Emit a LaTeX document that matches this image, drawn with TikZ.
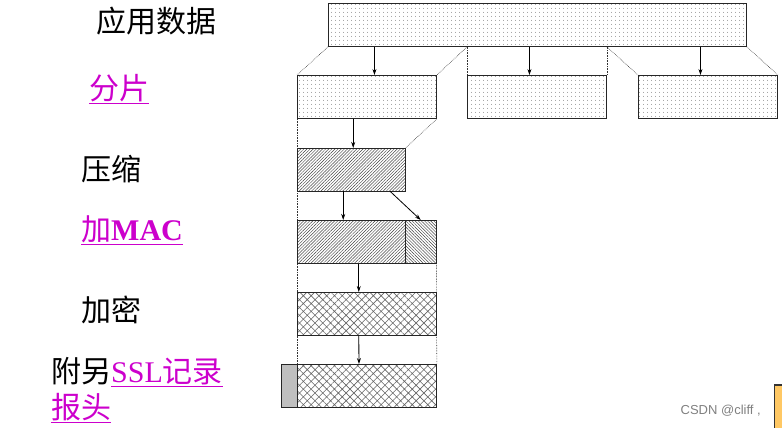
\documentclass[tikz,border=0pt]{standalone}
\usepackage{fontspec}
\setmainfont{Liberation Serif}
\setsansfont{Liberation Sans}
\newfontfamily\cjk{Noto Sans CJK SC}
\usepackage{tikz}
\usetikzlibrary{arrows.meta,patterns.meta,calc}
\definecolor{linkpurple}{RGB}{204,0,204}
\definecolor{memoorange}{RGB}{255,200,100}
\newcommand{\lnk}[1]{\textcolor{linkpurple}{\underline{#1}}}

\begin{document}
\begin{tikzpicture}[x=1pt, y=-1pt, >={Stealth[length=6pt,width=4pt]},
  box/.style={draw=black!85, line width=0.9pt, rectangle, inner sep=0pt, anchor=north west, minimum height=43pt},
  dotbox/.style={box, pattern={Dots[distance=4pt,radius=0.45pt]}, pattern color=black!70},
  linebox/.style={box, pattern={Lines[angle=45,distance=2.2pt,line width=0.45pt]}, pattern color=black!75},
  backbox/.style={box, pattern={Lines[angle=-45,distance=2.2pt,line width=0.45pt]}, pattern color=black!75},
  crossbox/.style={box, pattern={Hatch[angle=45,distance=5.5pt,line width=0.6pt]}, pattern color=black!60},
  guide/.style={densely dotted, black!80, line width=0.6pt},
  flow/.style={->, line width=0.8pt},
  lbl/.style={inner sep=0pt, anchor=west, font=\fontsize{30}{36}\selectfont}]
  \useasboundingbox (0,0) rectangle (782,428);
  % blocks
  \node[dotbox, minimum width=418pt] (app) at (328,3) {};
  \node[dotbox, minimum width=139pt] (frag1) at (297,75) {};
  \node[dotbox, minimum width=139pt] (frag2) at (467,75) {};
  \node[dotbox, minimum width=139pt] (frag3) at (638,75) {};
  \node[linebox, minimum width=108pt] (comp) at (297,148) {};
  \node[linebox, minimum width=108pt] (macdata) at (297,220) {};
  \node[backbox, minimum width=31pt] (mactag) at (405,220) {};
  \node[crossbox, minimum width=139pt] (enc) at (297,292) {};
  \node[box, fill=black!25, minimum width=16pt] (rechdr) at (281,364) {};
  \node[crossbox, minimum width=139pt] (recbody) at (297,364) {};
  % fragment guides
  \coordinate (cut1) at (frag2.north west |- app.south);
  \coordinate (cut2) at (frag2.north east |- app.south);
  \draw[guide] (app.south west) -- (frag1.north west);
  \draw[guide] (cut1) -- (frag1.north east);
  \draw[guide] (cut1) -- (frag2.north west);
  \draw[guide] (cut2) -- (frag2.north east);
  \draw[guide] (cut2) -- (frag3.north west);
  \draw[guide] (app.south east) -- (frag3.north east);
  % stack guides
  \draw[guide] (frag1.south west) -- (comp.north west);
  \draw[guide] (frag1.south east) -- (comp.north east);
  \draw[guide] (comp.south west) -- (macdata.north west);
  \draw[guide] (macdata.south west) -- (enc.north west);
  \draw[guide] (mactag.south east) -- (enc.north east);
  \draw[guide] (enc.south west) -- (recbody.north west);
  \draw[guide] (enc.south east) -- (recbody.north east);
  % arrows
  \foreach \f/\dx in {frag1/7.5,frag2/-7.5,frag3/-7.5}
    \draw[flow] ([xshift=\dx pt]app.south -| \f.north) -- ([xshift=\dx pt]\f.north);
  \draw[flow] ([xshift=2pt]frag1.south -| comp.north) -- ([xshift=2pt]comp.north);
  \draw[flow] ([xshift=-8pt]comp.south) -- ([xshift=-8pt]comp.south |- macdata.north);
  \draw[flow] ([xshift=39pt]comp.south) -- (mactag.north);
  \draw[flow] ([xshift=-8pt]macdata.south -| enc.north) -- ([xshift=-8pt]enc.north);
  \draw[flow] ([xshift=-8pt]enc.south) -- ([xshift=-8pt]recbody.north);
  % row labels
  \node[lbl] (lapp) at (96,21) {\cjk 应用数据};
  \node[lbl] (lfrag) at (89,89) {\lnk{\cjk 分片}};
  \node[lbl] (lcomp) at (81,169) {\cjk 压缩};
  \node[lbl] (lmac) at (81,230) {\lnk{{\cjk 加}\textbf{MAC}}};
  \node[lbl] (lenc) at (81,310) {\cjk 加密};
  \node[lbl, align=left] (lhdr) at (51,390) {{\cjk 附另}\lnk{SSL{\cjk 记录}}\\\lnk{\cjk 报头}};
  % page remains
  \node[inner sep=0pt, anchor=east, text=black!50, font=\fontsize{13}{15}\selectfont\sffamily] (mark) at (761,411) {CSDN @cliff ,};
  \draw[black!80, line width=1.4pt, fill=memoorange] (782,385) -- (774.5,385) -- (774.5,430);
  \fill[memoorange] (775.2,385.7) rectangle (782,428);
\end{tikzpicture}
\end{document}
